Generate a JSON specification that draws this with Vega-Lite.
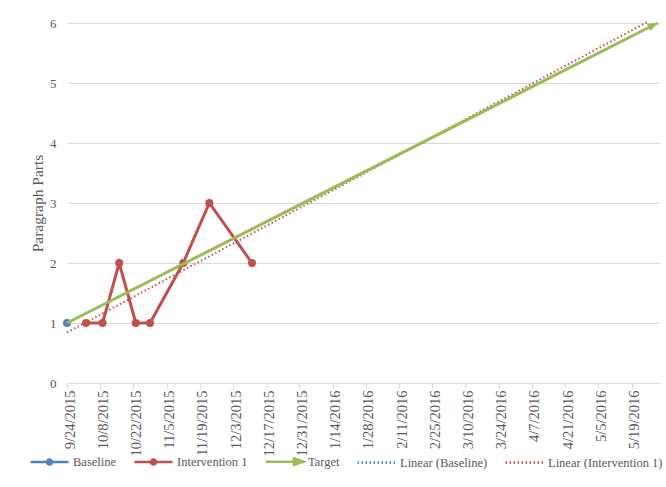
{
  "$schema": "https://vega.github.io/schema/vega-lite/v6.json",
  "width": 593,
  "height": 360,
  "autosize": "none",
  "padding": {"left": 67, "top": 23, "right": 6, "bottom": 104},
  "background": "white",
  "config": {
    "font": "Liberation Serif",
    "view": {"stroke": null},
    "axis": {
      "labelFont": "Liberation Serif",
      "labelFontSize": 13,
      "labelColor": "#595959",
      "titleFont": "Liberation Serif",
      "titleFontSize": 15.5,
      "titleFontWeight": "normal",
      "titleColor": "#595959"
    },
    "legend": {
      "orient": "none",
      "direction": "horizontal",
      "legendX": -38,
      "legendY": 418,
      "padding": 0,
      "symbolSize": 1444,
      "symbolStrokeWidth": 2.5,
      "symbolOpacity": 1,
      "labelFont": "Liberation Serif",
      "labelFontSize": 12.5,
      "labelColor": "#595959",
      "labelOffset": 3,
      "columnPadding": 12
    }
  },
  "data": {
    "format": {"parse": {"date": "date"}},
    "values": [
      {"series": "Baseline", "date": "2015-09-24", "value": 1},
      {"series": "Intervention 1", "date": "2015-10-02", "value": 1},
      {"series": "Intervention 1", "date": "2015-10-09", "value": 1},
      {"series": "Intervention 1", "date": "2015-10-16", "value": 2},
      {"series": "Intervention 1", "date": "2015-10-23", "value": 1},
      {"series": "Intervention 1", "date": "2015-10-29", "value": 1},
      {"series": "Intervention 1", "date": "2015-11-12", "value": 2},
      {"series": "Intervention 1", "date": "2015-11-23", "value": 3},
      {"series": "Intervention 1", "date": "2015-12-11", "value": 2},
      {"series": "Target", "date": "2015-09-24", "value": 1},
      {"series": "Target", "date": "2016-05-30", "value": 6}
    ]
  },
  "encoding": {
    "x": {
      "field": "date",
      "type": "temporal",
      "scale": {
        "type": "utc",
        "domain": [
          {"year": 2015, "month": "sep", "date": 24, "utc": true},
          {"year": 2016, "month": "may", "date": 31, "utc": true}
        ]
      },
      "axis": {
        "title": null,
        "grid": false,
        "labelExpr": "utcFormat(datum.value, '%-m/%-d/%Y')",
        "labelFontSize": 14.5,
        "labelAngle": 270,
        "labelPadding": 2,
        "labelOffset": 3,
        "labelFlush": false,
        "labelOverlap": false,
        "tickSize": 5,
        "tickColor": "#d9d9d9",
        "domainColor": "#d9d9d9",
        "values": [
          {"year": 2015, "month": "sep", "date": 24, "utc": true},
          {"year": 2015, "month": "oct", "date": 8, "utc": true},
          {"year": 2015, "month": "oct", "date": 22, "utc": true},
          {"year": 2015, "month": "nov", "date": 5, "utc": true},
          {"year": 2015, "month": "nov", "date": 19, "utc": true},
          {"year": 2015, "month": "dec", "date": 3, "utc": true},
          {"year": 2015, "month": "dec", "date": 17, "utc": true},
          {"year": 2015, "month": "dec", "date": 31, "utc": true},
          {"year": 2016, "month": "jan", "date": 14, "utc": true},
          {"year": 2016, "month": "jan", "date": 28, "utc": true},
          {"year": 2016, "month": "feb", "date": 11, "utc": true},
          {"year": 2016, "month": "feb", "date": 25, "utc": true},
          {"year": 2016, "month": "mar", "date": 10, "utc": true},
          {"year": 2016, "month": "mar", "date": 24, "utc": true},
          {"year": 2016, "month": "apr", "date": 7, "utc": true},
          {"year": 2016, "month": "apr", "date": 21, "utc": true},
          {"year": 2016, "month": "may", "date": 5, "utc": true},
          {"year": 2016, "month": "may", "date": 19, "utc": true}
        ]
      }
    },
    "y": {
      "field": "value",
      "type": "quantitative",
      "scale": {"domain": [0, 6], "nice": false, "zero": true},
      "axis": {
        "title": "Paragraph Parts",
        "values": [0, 1, 2, 3, 4, 5, 6],
        "format": "d",
        "grid": true,
        "gridColor": "#d9d9d9",
        "domain": false,
        "ticks": false,
        "labelPadding": 11,
        "titlePadding": 4
      }
    },
    "color": {
      "field": "series",
      "type": "nominal",
      "scale": {
        "domain": ["Baseline", "Intervention 1", "Target", "Linear (Baseline)", "Linear (Intervention 1)"],
        "range": ["#4F81BD", "#C0504D", "#9BBB59", "#4F81BD", "#C0504D"]
      },
      "legend": {"title": null}
    }
  },
  "layer": [
    {
      "transform": [
        {"filter": "datum.series === 'Intervention 1'"},
        {"regression": "value", "on": "date", "method": "linear", "extent": [1443052800000, 1464220800000]}
      ],
      "mark": {"type": "line", "strokeWidth": 2, "strokeDash": [1.5, 2.5], "strokeCap": "butt"},
      "encoding": {"color": {"value": "#C0504D"}}
    },
    {
      "transform": [{"filter": "datum.series === 'Intervention 1'"}],
      "mark": {"type": "line", "strokeWidth": 3, "point": {"filled": true, "size": 64, "opacity": 1}}
    },
    {
      "transform": [{"filter": "datum.series === 'Baseline'"}],
      "mark": {"type": "point", "filled": true, "size": 64, "opacity": 1}
    },
    {
      "transform": [{"filter": "datum.series === 'Target'"}],
      "mark": {"type": "line", "strokeWidth": 3, "strokeCap": "butt"}
    },
    {
      "transform": [{"filter": "datum.series === 'Target' && datum.value === 6"}],
      "mark": {"type": "point", "filled": true, "opacity": 1, "size": 100, "angle": 333, "shape": "M-2,-0.8L0,0L-2,0.8Z"}
    },
    {
      "description": "Legend key only: line, marker and dash style per series",
      "transform": [{"filter": "false"}],
      "mark": {"type": "point", "filled": false, "opacity": 1, "strokeWidth": 2.5},
      "encoding": {
        "shape": {
          "field": "series",
          "type": "nominal",
          "scale": {
            "domain": ["Baseline", "Intervention 1", "Target", "Linear (Baseline)", "Linear (Intervention 1)"],
            "range": [
              "M-1,0H1M0.13,0A0.13,0.13,0,1,1,-0.13,0A0.13,0.13,0,1,1,0.13,0",
              "M-1,0H1M0.13,0A0.13,0.13,0,1,1,-0.13,0A0.13,0.13,0,1,1,0.13,0",
              "M-1,0H0.6M0.5,-0.17L1,0L0.5,0.17Z",
              "M-1,0H1",
              "M-1,0H1"
            ]
          },
          "legend": {"title": null}
        },
        "strokeDash": {
          "field": "series",
          "type": "nominal",
          "scale": {
            "domain": ["Baseline", "Intervention 1", "Target", "Linear (Baseline)", "Linear (Intervention 1)"],
            "range": [[1, 0], [1, 0], [1, 0], [1.5, 2.5], [1.5, 2.5]]
          },
          "legend": {"title": null}
        }
      }
    }
  ]
}
